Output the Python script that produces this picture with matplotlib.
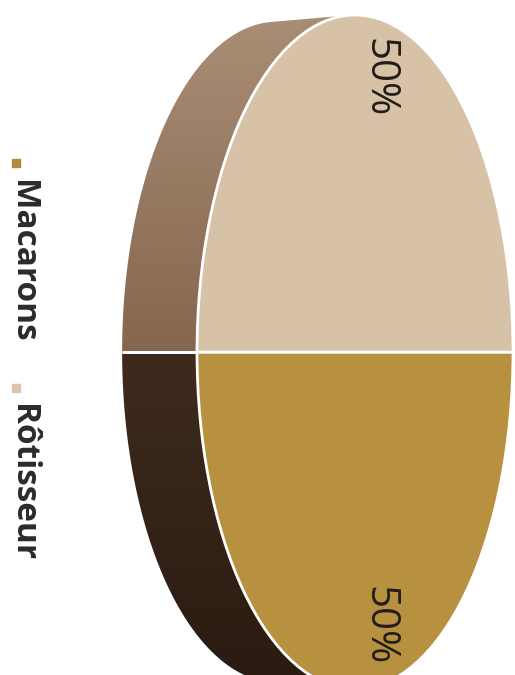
import numpy as np
import matplotlib
matplotlib.use('Agg')
import matplotlib.pyplot as plt
from matplotlib.patches import Polygon
from matplotlib.colors import LinearSegmentedColormap

labels = ['Macarons', 'Rôtisseur']
values = [50, 50]
face_colors = ['#b7913f', '#d7c2a7']
side_colors = [('#3f2b1e', '#2a1a11'), ('#86664f', '#a98e76')]  # (near split, far edge)
legend_colors = ['#b08b3a', '#dcc4ad']

depth = -0.494   # shift of the back face, in radius units
back_r = 0.98
start = 180


def hull(pts):
    pts = sorted(map(tuple, pts))
    def cross(o, a, b):
        return (a[0] - o[0]) * (b[1] - o[1]) - (a[1] - o[1]) * (b[0] - o[0])
    lower, upper = [], []
    for p in pts:
        while len(lower) >= 2 and cross(lower[-2], lower[-1], p) <= 0:
            lower.pop()
        lower.append(p)
    for p in reversed(pts):
        while len(upper) >= 2 and cross(upper[-2], upper[-1], p) <= 0:
            upper.pop()
        upper.append(p)
    return np.array(lower[:-1] + upper[:-1])


fig = plt.figure(figsize=(5.15, 6.75), dpi=100)
ax = fig.add_axes([0, 0, 1, 1])

fracs = np.array(values) / sum(values)
edges = start + 360 * np.concatenate([[0], np.cumsum(fracs)])

# side of the disc, one piece per slice
for i in range(len(values)):
    t = np.radians(np.linspace(edges[i], edges[i + 1], 200))
    front = np.column_stack([np.cos(t), np.sin(t)])
    back = np.column_stack([depth + back_r * np.cos(t), back_r * np.sin(t)])
    pts = np.vstack([front, back, [[0, 0], [depth, 0]]])
    poly = Polygon(hull(pts), closed=True, facecolor='none', edgecolor='none')
    ax.add_patch(poly)
    ymin, ymax = pts[:, 1].min(), pts[:, 1].max()
    c_near, c_far = side_colors[i]
    mid = np.sin(np.radians((edges[i] + edges[i + 1]) / 2))
    cmap = LinearSegmentedColormap.from_list('s%d' % i, [c_near, c_far])
    grad = np.linspace(0, 1, 256)[:, None]
    if mid < 0:
        grad = grad[::-1]
    img = ax.imshow(grad, cmap=cmap, aspect='auto', origin='lower',
                    extent=[pts[:, 0].min(), pts[:, 0].max(), ymin, ymax],
                    zorder=0.5, interpolation='bilinear')
    img.set_clip_path(poly)

# white split lines across the side
for e in edges:
    a = np.radians(e)
    ax.plot([np.cos(a), depth + back_r * np.cos(a)], [np.sin(a), back_r * np.sin(a)],
            color='white', lw=2, zorder=0.8, solid_capstyle='butt')

wedges, texts, autotexts = ax.pie(
    values, colors=face_colors, startangle=start, counterclock=True,
    radius=1, center=(0, 0), autopct='%d%%', pctdistance=0.813,
    wedgeprops=dict(edgecolor='white', linewidth=2),
    textprops=dict(fontfamily='Open Sans', fontsize=29, color='#221d18'))
for at in autotexts:
    x, y = at.get_position()
    at.set_position((x + 0.152, y))
    at.set_rotation(-90)
    at.set_ha('center')
    at.set_va('center')

ax.set_aspect('auto')
ax.set_xlim(-2.247, 1.0127)
ax.set_ylim(-0.958, 1.0445)
ax.axis('off')

# legend, rotated like the rest of the chart
legend_y = [163, 388]
text_y = [180, 404]
for lab, col, my, ty in zip(labels, legend_colors, legend_y, text_y):
    ax.plot([16 / 515], [1 - my / 675], marker='s', ms=6, color=col,
            transform=ax.transAxes, clip_on=False)
    ax.text(22 / 515, 1 - ty / 675, lab, rotation=-90, ha='center', va='top',
            fontfamily='Open Sans', fontweight='bold', fontsize=24,
            color='#2b2b2b', transform=ax.transAxes)

fig.savefig('out.png', dpi=100)
